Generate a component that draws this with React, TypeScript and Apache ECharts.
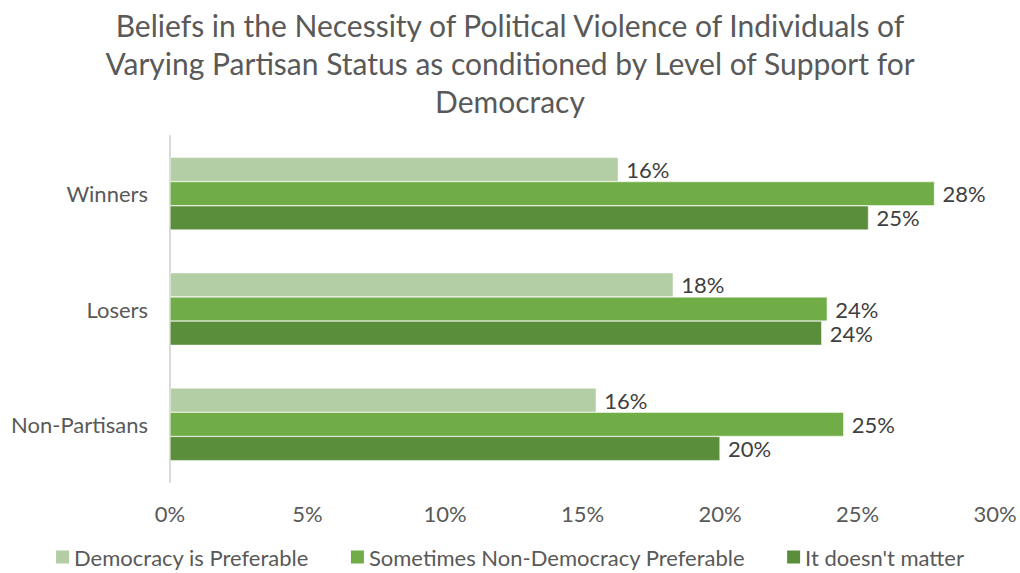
import React, { useEffect, useRef } from "react";
import * as echarts from "echarts";

const categories = ["Winners", "Losers", "Non-Partisans"];
const seriesNames = [
  "Democracy is Preferable",
  "Sometimes Non-Democracy Preferable",
  "It doesn't matter",
];
const democracyPreferable = [16.3, 18.3, 15.5];
const sometimesNonDemocracy = [27.8, 23.9, 24.5];
const doesntMatter = [25.4, 23.7, 20.0];
const xTicks = [0, 5, 10, 15, 20, 25, 30];
const colors = ["#B3CEA5", "#70AD47", "#5A8E3B"];

const FONT = "Lato";
const FS = 22;

export default function App() {
  const ref = useRef<HTMLDivElement>(null);
  useEffect(() => {
    if (!ref.current) return;
    const chart = echarts.init(ref.current, undefined, { renderer: "svg" });
    const values = [democracyPreferable, sometimesNonDemocracy, doesntMatter];
    chart.setOption({
      animation: false,
      backgroundColor: "#ffffff",
      textStyle: { fontFamily: FONT },
      title: {
        text:
          "Beliefs in the Necessity of Political Violence of Individuals of\nVarying Partisan Status as conditioned by Level of Support for\nDemocracy",
        left: "center",
        top: 1,
        textStyle: {
          fontFamily: FONT,
          fontSize: 30,
          fontWeight: "normal",
          color: "#595959",
          lineHeight: 38,
        },
      },
      grid: { left: 170, right: 25, top: 136, bottom: 91, containLabel: false },
      xAxis: {
        type: "value",
        min: xTicks[0],
        max: xTicks[xTicks.length - 1],
        interval: 5,
        axisLine: { show: false },
        axisTick: { show: false },
        splitLine: { show: false },
        axisLabel: {
          formatter: (v: number) => v + "%",
          fontSize: FS,
          color: "#595959",
          margin: 20,
          fontFamily: FONT,
        },
      },
      yAxis: {
        type: "category",
        inverse: true,
        data: categories,
        axisLine: { show: true, lineStyle: { color: "#D9D9D9", width: 2 } },
        axisTick: { show: false },
        axisLabel: {
          fontSize: FS,
          color: "#595959",
          margin: 22,
          fontFamily: FONT,
        },
      },
      legend: {
        bottom: 0,
        left: "center",
        icon: "rect",
        itemWidth: 13,
        itemHeight: 13,
        itemGap: 42,
        itemStyle: { borderWidth: 0 },
        textStyle: { fontSize: FS, color: "#595959", fontFamily: FONT },
        data: seriesNames,
      },
      series: seriesNames.map((name, i) => ({
        name,
        type: "bar",
        data: values[i],
        barGap: "0%",
        barCategoryGap: "37%",
        itemStyle: { color: colors[i], borderColor: "#ffffff", borderWidth: 0.5 },
        label: {
          show: true,
          position: "right",
          distance: 8,
          formatter: (p: any) => Math.round(p.value) + "%",
          fontSize: FS,
          color: "#404040",
          fontFamily: FONT,
        },
      })),
    });
    return () => chart.dispose();
  }, []);
  return (
    <div
      ref={ref}
      style={{ position: "fixed", left: 0, top: 0, width: 1020, height: 573 }}
    />
  );
}
